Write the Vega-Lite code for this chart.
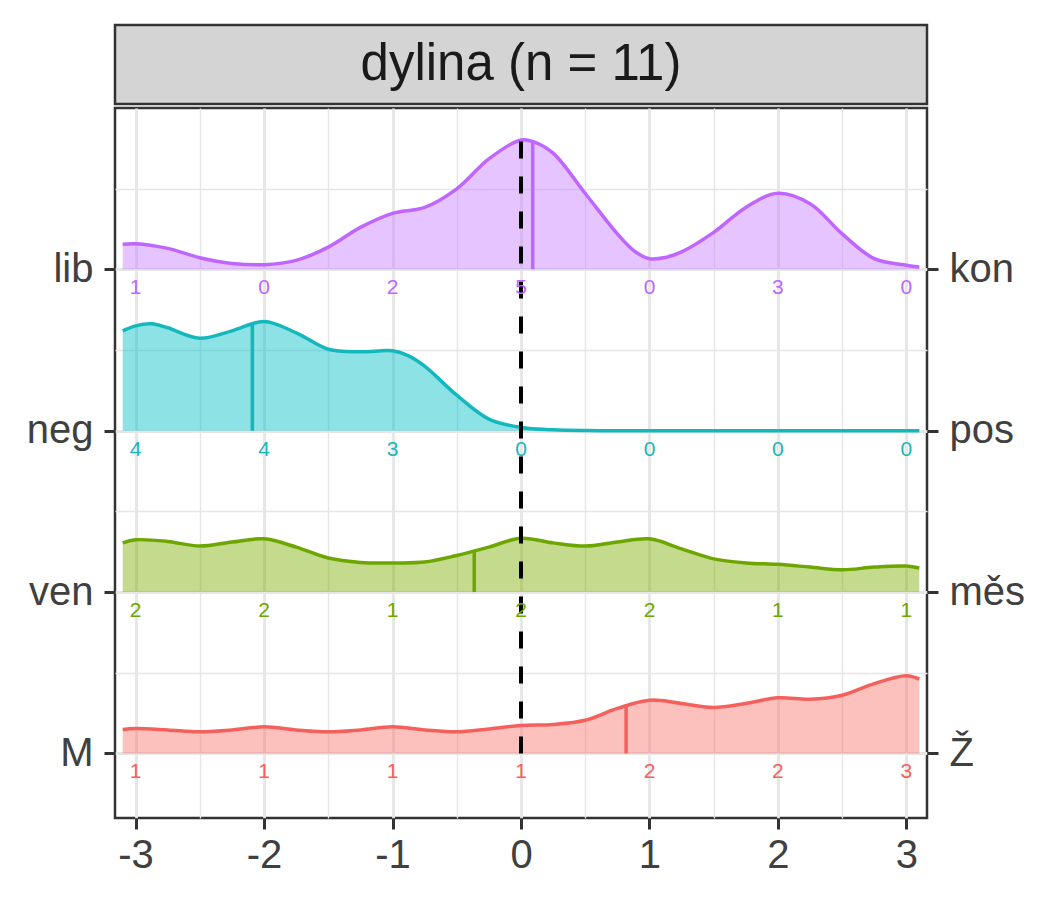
{
  "$schema": "https://vega.github.io/schema/vega-lite/v6.json",
  "autosize": {"type": "pad"},
  "padding": {"left": 25, "top": 23, "right": 5, "bottom": 5},
  "spacing": 0,
  "config": {
    "font": "Liberation Sans",
    "view": {"stroke": "#333333", "strokeWidth": 2.5}
  },
  "datasets": {
    "groups": [
      {"g": "M", "base": 1},
      {"g": "ven", "base": 2},
      {"g": "neg", "base": 3},
      {"g": "lib", "base": 4}
    ],
    "dens": [
      {"g": "lib", "x": -3.1, "d": 0.155}, {"g": "lib", "x": -3, "d": 0.159}, {"g": "lib", "x": -2.75, "d": 0.130},
      {"g": "lib", "x": -2.5, "d": 0.072}, {"g": "lib", "x": -2.25, "d": 0.037}, {"g": "lib", "x": -2, "d": 0.029},
      {"g": "lib", "x": -1.75, "d": 0.056}, {"g": "lib", "x": -1.5, "d": 0.138}, {"g": "lib", "x": -1.25, "d": 0.260},
      {"g": "lib", "x": -1, "d": 0.347}, {"g": "lib", "x": -0.75, "d": 0.384}, {"g": "lib", "x": -0.5, "d": 0.499},
      {"g": "lib", "x": -0.25, "d": 0.685}, {"g": "lib", "x": 0, "d": 0.802}, {"g": "lib", "x": 0.1, "d": 0.790},
      {"g": "lib", "x": 0.25, "d": 0.720}, {"g": "lib", "x": 0.5, "d": 0.470}, {"g": "lib", "x": 0.75, "d": 0.220},
      {"g": "lib", "x": 0.875, "d": 0.118}, {"g": "lib", "x": 1, "d": 0.066}, {"g": "lib", "x": 1.125, "d": 0.074},
      {"g": "lib", "x": 1.25, "d": 0.108}, {"g": "lib", "x": 1.5, "d": 0.229},
      {"g": "lib", "x": 1.75, "d": 0.384}, {"g": "lib", "x": 2, "d": 0.471}, {"g": "lib", "x": 2.25, "d": 0.406},
      {"g": "lib", "x": 2.5, "d": 0.220}, {"g": "lib", "x": 2.75, "d": 0.066}, {"g": "lib", "x": 3, "d": 0.025},
      {"g": "lib", "x": 3.1, "d": 0.014},

      {"g": "neg", "x": -3.1, "d": 0.619}, {"g": "neg", "x": -3, "d": 0.650}, {"g": "neg", "x": -2.875, "d": 0.663},
      {"g": "neg", "x": -2.75, "d": 0.638}, {"g": "neg", "x": -2.5, "d": 0.573}, {"g": "neg", "x": -2.25, "d": 0.619},
      {"g": "neg", "x": -2, "d": 0.677}, {"g": "neg", "x": -1.75, "d": 0.607}, {"g": "neg", "x": -1.5, "d": 0.505},
      {"g": "neg", "x": -1.25, "d": 0.489}, {"g": "neg", "x": -1, "d": 0.495}, {"g": "neg", "x": -0.875, "d": 0.464},
      {"g": "neg", "x": -0.75, "d": 0.400}, {"g": "neg", "x": -0.5, "d": 0.220}, {"g": "neg", "x": -0.25, "d": 0.072},
      {"g": "neg", "x": 0, "d": 0.020}, {"g": "neg", "x": 0.25, "d": 0.006}, {"g": "neg", "x": 0.5, "d": 0.001},
      {"g": "neg", "x": 0.75, "d": 0}, {"g": "neg", "x": 1, "d": 0}, {"g": "neg", "x": 1.5, "d": 0},
      {"g": "neg", "x": 2, "d": 0}, {"g": "neg", "x": 2.5, "d": 0}, {"g": "neg", "x": 3, "d": 0},
      {"g": "neg", "x": 3.1, "d": 0},

      {"g": "ven", "x": -3.1, "d": 0.305}, {"g": "ven", "x": -3, "d": 0.324}, {"g": "ven", "x": -2.75, "d": 0.314},
      {"g": "ven", "x": -2.5, "d": 0.285}, {"g": "ven", "x": -2.25, "d": 0.310}, {"g": "ven", "x": -2, "d": 0.330},
      {"g": "ven", "x": -1.75, "d": 0.279}, {"g": "ven", "x": -1.5, "d": 0.211}, {"g": "ven", "x": -1.25, "d": 0.184},
      {"g": "ven", "x": -1, "d": 0.181}, {"g": "ven", "x": -0.75, "d": 0.186}, {"g": "ven", "x": -0.5, "d": 0.227},
      {"g": "ven", "x": -0.25, "d": 0.279}, {"g": "ven", "x": 0, "d": 0.334}, {"g": "ven", "x": 0.25, "d": 0.305},
      {"g": "ven", "x": 0.5, "d": 0.285}, {"g": "ven", "x": 0.75, "d": 0.310}, {"g": "ven", "x": 1, "d": 0.330},
      {"g": "ven", "x": 1.25, "d": 0.268}, {"g": "ven", "x": 1.5, "d": 0.206}, {"g": "ven", "x": 1.75, "d": 0.181},
      {"g": "ven", "x": 2, "d": 0.172}, {"g": "ven", "x": 2.25, "d": 0.155}, {"g": "ven", "x": 2.5, "d": 0.138},
      {"g": "ven", "x": 2.75, "d": 0.155}, {"g": "ven", "x": 3, "d": 0.161}, {"g": "ven", "x": 3.1, "d": 0.149},

      {"g": "M", "x": -3.1, "d": 0.149}, {"g": "M", "x": -3, "d": 0.155}, {"g": "M", "x": -2.75, "d": 0.146},
      {"g": "M", "x": -2.5, "d": 0.134}, {"g": "M", "x": -2.25, "d": 0.146}, {"g": "M", "x": -2, "d": 0.165},
      {"g": "M", "x": -1.75, "d": 0.146}, {"g": "M", "x": -1.5, "d": 0.134}, {"g": "M", "x": -1.25, "d": 0.146},
      {"g": "M", "x": -1, "d": 0.165}, {"g": "M", "x": -0.75, "d": 0.146}, {"g": "M", "x": -0.5, "d": 0.134},
      {"g": "M", "x": -0.25, "d": 0.152}, {"g": "M", "x": 0, "d": 0.173}, {"g": "M", "x": 0.25, "d": 0.180},
      {"g": "M", "x": 0.5, "d": 0.206}, {"g": "M", "x": 0.75, "d": 0.279}, {"g": "M", "x": 1, "d": 0.330},
      {"g": "M", "x": 1.25, "d": 0.310}, {"g": "M", "x": 1.5, "d": 0.285}, {"g": "M", "x": 1.75, "d": 0.310},
      {"g": "M", "x": 2, "d": 0.345}, {"g": "M", "x": 2.25, "d": 0.336}, {"g": "M", "x": 2.5, "d": 0.361},
      {"g": "M", "x": 2.75, "d": 0.433}, {"g": "M", "x": 3, "d": 0.481}, {"g": "M", "x": 3.1, "d": 0.460}
    ],
    "means": [
      {"g": "lib", "mean": 0.091, "d": 0.790},
      {"g": "neg", "mean": -2.091, "d": 0.665},
      {"g": "ven", "mean": -0.364, "d": 0.250},
      {"g": "M", "mean": 0.818, "d": 0.300}
    ],
    "counts": [
      {"g": "lib", "x": -3, "n": 1}, {"g": "lib", "x": -2, "n": 0}, {"g": "lib", "x": -1, "n": 2}, {"g": "lib", "x": 0, "n": 5},
      {"g": "lib", "x": 1, "n": 0}, {"g": "lib", "x": 2, "n": 3}, {"g": "lib", "x": 3, "n": 0},
      {"g": "neg", "x": -3, "n": 4}, {"g": "neg", "x": -2, "n": 4}, {"g": "neg", "x": -1, "n": 3}, {"g": "neg", "x": 0, "n": 0},
      {"g": "neg", "x": 1, "n": 0}, {"g": "neg", "x": 2, "n": 0}, {"g": "neg", "x": 3, "n": 0},
      {"g": "ven", "x": -3, "n": 2}, {"g": "ven", "x": -2, "n": 2}, {"g": "ven", "x": -1, "n": 1}, {"g": "ven", "x": 0, "n": 2},
      {"g": "ven", "x": 1, "n": 2}, {"g": "ven", "x": 2, "n": 1}, {"g": "ven", "x": 3, "n": 1},
      {"g": "M", "x": -3, "n": 1}, {"g": "M", "x": -2, "n": 1}, {"g": "M", "x": -1, "n": 1}, {"g": "M", "x": 0, "n": 1},
      {"g": "M", "x": 1, "n": 2}, {"g": "M", "x": 2, "n": 2}, {"g": "M", "x": 3, "n": 3}
    ]
  },
  "vconcat": [
    {
      "width": 812,
      "height": 79,
      "view": {"fill": "#D4D4D4", "stroke": "#333333", "strokeWidth": 2.5},
      "data": {"values": [{"label": "dylina (n = 11)"}]},
      "mark": {"type": "text", "fontSize": 51, "color": "#1a1a1a", "baseline": "middle", "align": "center"},
      "encoding": {"text": {"field": "label"}}
    },
    {
      "width": 812,
      "height": 710,
      "resolve": {"axis": {"y": "independent"}},
      "layer": [
        {
          "data": {"name": "dens"},
          "transform": [
            {"lookup": "g", "from": {"data": {"name": "groups"}, "key": "g", "fields": ["base"]}},
            {"calculate": "datum.base + datum.d", "as": "top"}
          ],
          "mark": {"type": "area", "interpolate": "catmull-rom", "fillOpacity": 0.45},
          "encoding": {
            "x": {
              "field": "x", "type": "quantitative",
              "scale": {"domain": [-3.16, 3.16], "nice": false, "zero": false},
              "axis": {
                "title": null, "domain": false,
                "values": [-3, -2.5, -2, -1.5, -1, -0.5, 0, 0.5, 1, 1.5, 2, 2.5, 3],
                "labelExpr": "datum.value % 1 === 0 ? '' + datum.value : ''",
                "labelFontSize": 40, "labelColor": "#404040", "labelPadding": 6,
                "tickSize": 11, "tickWidth": 3, "tickColor": "#333333",
                "tickOpacity": {"condition": {"test": "datum.value % 1 !== 0", "value": 0}, "value": 1},
                "grid": true, "gridColor": "#E6E6E6",
                "gridWidth": {"condition": {"test": "datum.value % 1 === 0", "value": 2.8}, "value": 1.4}
              }
            },
            "y": {
              "field": "top", "type": "quantitative",
              "scale": {"domain": [0.6, 5.0], "nice": false, "zero": false},
              "axis": {
                "title": null, "domain": false, "orient": "left",
                "values": [1, 1.5, 2, 2.5, 3, 3.5, 4, 4.5],
                "labelExpr": "datum.value === 4 ? 'lib' : datum.value === 3 ? 'neg' : datum.value === 2 ? 'ven' : datum.value === 1 ? 'M' : ''",
                "labelFontSize": 40, "labelColor": "#404040", "labelPadding": 11,
                "tickSize": 11, "tickWidth": 3, "tickColor": "#333333",
                "tickOpacity": {"condition": {"test": "datum.value % 1 !== 0", "value": 0}, "value": 1},
                "grid": true, "gridColor": "#E6E6E6",
                "gridWidth": {"condition": {"test": "datum.value % 1 === 0", "value": 2.8}, "value": 1.4}
              }
            },
            "y2": {"field": "base"},
            "fill": {
              "field": "g", "type": "nominal", "legend": null,
              "scale": {"domain": ["M", "ven", "neg", "lib"], "range": ["#F8766D", "#7CAE00", "#00BFC4", "#C77CFF"]}
            },
            "detail": {"field": "g"}
          }
        },
        {
          "data": {"name": "dens"},
          "transform": [
            {"lookup": "g", "from": {"data": {"name": "groups"}, "key": "g", "fields": ["base"]}},
            {"calculate": "datum.base + datum.d", "as": "top"}
          ],
          "mark": {"type": "line", "interpolate": "catmull-rom", "strokeWidth": 3.5},
          "encoding": {
            "x": {"field": "x", "type": "quantitative"},
            "y": {"field": "top", "type": "quantitative", "axis": null},
            "stroke": {
              "field": "g", "type": "nominal", "legend": null,
              "scale": {"domain": ["M", "ven", "neg", "lib"], "range": ["#F5605C", "#6DA600", "#14B8BC", "#BE66FF"]}
            }
          }
        },
        {
          "data": {"name": "means"},
          "transform": [
            {"lookup": "g", "from": {"data": {"name": "groups"}, "key": "g", "fields": ["base"]}},
            {"calculate": "datum.base + datum.d", "as": "top"}
          ],
          "mark": {"type": "rule", "strokeWidth": 3.5},
          "encoding": {
            "x": {"field": "mean", "type": "quantitative"},
            "y": {"field": "base", "type": "quantitative", "axis": null},
            "y2": {"field": "top"},
            "stroke": {"field": "g", "type": "nominal", "legend": null}
          }
        },
        {
          "data": {"values": [{}]},
          "mark": {"type": "rule", "strokeWidth": 4, "strokeDash": [17, 18], "color": "black"},
          "encoding": {
            "x": {"datum": 0, "type": "quantitative"},
            "y": {"datum": 1, "type": "quantitative", "axis": null},
            "y2": {"datum": 4.8}
          }
        },
        {
          "data": {"name": "counts"},
          "transform": [
            {"lookup": "g", "from": {"data": {"name": "groups"}, "key": "g", "fields": ["base"]}}
          ],
          "mark": {"type": "text", "fontSize": 21, "baseline": "middle", "dy": 19},
          "encoding": {
            "x": {"field": "x", "type": "quantitative"},
            "y": {
              "field": "base", "type": "quantitative",
              "axis": {
                "title": null, "domain": false, "orient": "right", "grid": false,
                "values": [1, 2, 3, 4],
                "labelExpr": "datum.value === 4 ? 'kon' : datum.value === 3 ? 'pos' : datum.value === 2 ? 'měs' : 'Ž'",
                "labelFontSize": 40, "labelColor": "#404040", "labelPadding": 11,
                "tickSize": 11, "tickWidth": 3, "tickColor": "#333333"
              }
            },
            "text": {"field": "n", "type": "quantitative"},
            "color": {
              "field": "g", "type": "nominal", "legend": null,
              "scale": {"domain": ["M", "ven", "neg", "lib"], "range": ["#F5605C", "#6DA600", "#14B8BC", "#BE66FF"]}
            }
          }
        }
      ]
    }
  ]
}
